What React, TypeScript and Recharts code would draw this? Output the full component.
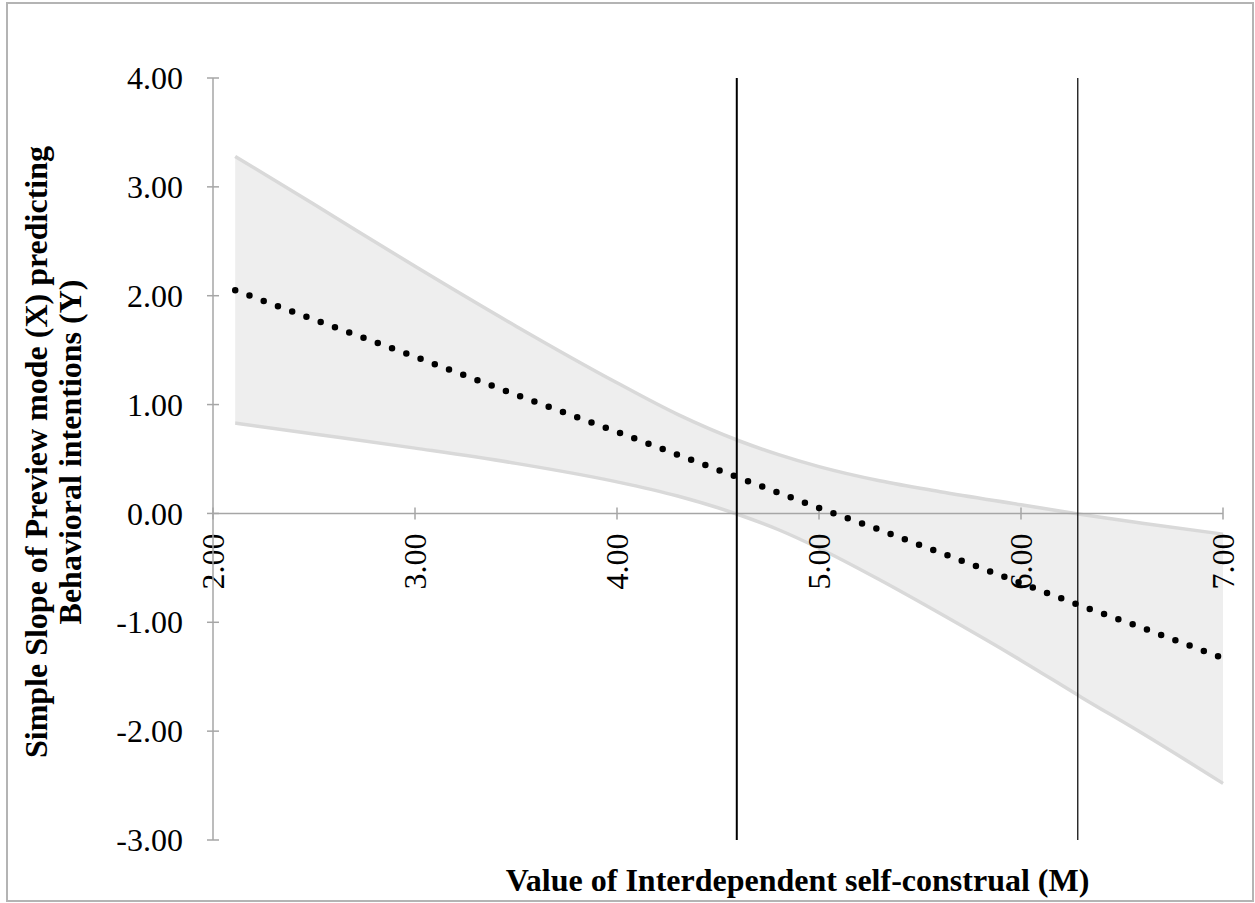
import { ComposedChart, Area, Line, XAxis, YAxis, ReferenceLine } from "recharts";

// values
const moderator = [2.11, 2.5, 3.0, 3.5, 4.0, 4.3, 4.6, 4.8, 5.0, 5.3, 5.6, 6.0, 6.3, 6.6, 7.0];
const slope = [2.05, 1.78, 1.44, 1.09, 0.75, 0.54, 0.33, 0.19, 0.05, -0.15, -0.36, -0.64, -0.85, -1.05, -1.33];
const upperCI = [3.28, 2.84, 2.27, 1.72, 1.2, 0.91, 0.67, 0.54, 0.43, 0.3, 0.2, 0.08, -0.01, -0.09, -0.19];
const lowerCI = [0.83, 0.73, 0.6, 0.46, 0.29, 0.16, -0.01, -0.15, -0.32, -0.61, -0.92, -1.35, -1.69, -2.02, -2.48];
const yTicks = [-3, -2, -1, 0, 1, 2, 3, 4];
const xTicks = [2, 3, 4, 5, 6, 7];
const jnPoints = [4.593, 6.281];

const data = moderator.map((m, i) => ({
  m,
  slope: slope[i],
  upper: upperCI[i],
  lower: lowerCI[i],
  band: [lowerCI[i], upperCI[i]],
}));

const FONT = "'Liberation Serif', 'Times New Roman', serif";
const AXIS = "#a6a6a6";

const YTick = (props: any) => {
  const { x, y, payload } = props;
  return (
    <g>
      <line x1={x + 24} x2={x + 36} y1={y} y2={y} stroke={AXIS} strokeWidth={1.5} />
      <text x={x} y={y} dy="0.35em" textAnchor="end" fontSize={32} fontFamily={FONT} fill="#000">
        {Number(payload.value).toFixed(2)}
      </text>
    </g>
  );
};

const xTickLabel = (v: number) => (p: any) => {
  const vb = p.viewBox || {};
  const x = vb.x ?? 0;
  const y = (vb.y ?? 0) + (vb.height ?? 0) + 14;
  return (
    <text
      x={x}
      y={y}
      dy="0.35em"
      textAnchor="end"
      fontSize={32}
      fontFamily={FONT}
      fill="#000"
      transform={`rotate(-90, ${x}, ${y})`}
    >
      {v.toFixed(2)}
    </text>
  );
};

export default function App() {
  return (
    <div style={{ position: "absolute", left: 0, top: 0, width: 1255, height: 903, background: "#fff" }}>
      <div
        style={{
          position: "absolute",
          left: 6,
          top: 2,
          width: 1248,
          height: 900,
          border: "2px solid #b4b4b4",
          boxSizing: "border-box",
        }}
      />
      <div style={{ position: "absolute", left: 0, top: 0 }}>
        <ComposedChart width={1255} height={903} data={data} margin={{ top: 78, right: 32, bottom: 63, left: 153 }}>
          <XAxis dataKey="m" type="number" domain={[2, 7]} ticks={xTicks} hide />
          <YAxis
            type="number"
            domain={[-3, 4]}
            ticks={yTicks}
            interval={0}
            width={60}
            tickSize={6}
            tickMargin={24}
            tickLine={false}
            axisLine={{ stroke: AXIS, strokeWidth: 1.5 }}
            tick={<YTick />}
          />
          <Area
            dataKey="band"
            type="monotone"
            fill="#eeeeee"
            fillOpacity={1}
            stroke="none"
            isAnimationActive={false}
          />
          <Line dataKey="upper" type="monotone" stroke="#d9d9d9" strokeWidth={3.5} dot={false} isAnimationActive={false} />
          <Line dataKey="lower" type="monotone" stroke="#d9d9d9" strokeWidth={3.5} dot={false} isAnimationActive={false} />
          <ReferenceLine y={0} stroke={AXIS} strokeWidth={1.5} />
          {xTicks.map((v) => (
            <ReferenceLine
              key={v}
              segment={[
                { x: v, y: -0.055 },
                { x: v, y: 0.055 },
              ]}
              stroke={AXIS}
              strokeWidth={1.5}
              label={xTickLabel(v)}
            />
          ))}
          <ReferenceLine x={jnPoints[0]} stroke="#000" strokeWidth={2} />
          <ReferenceLine x={jnPoints[1]} stroke="#111" strokeWidth={1.3} />
          <Line
            dataKey="slope"
            type="linear"
            stroke="#000"
            strokeWidth={6.5}
            strokeDasharray="0 15.2"
            strokeLinecap="round"
            dot={false}
            isAnimationActive={false}
          />
        </ComposedChart>
      </div>
      <svg width={1255} height={903} style={{ position: "absolute", left: 0, top: 0, pointerEvents: "none" }}>
        <g fontFamily={FONT} fontWeight="bold" fontSize={32} fill="#000">
          <text x={46.5} y={452} textAnchor="middle" transform="rotate(-90, 46.5, 452)">
            Simple Slope of Preview mode (X) predicting
          </text>
          <text x={81} y={452} textAnchor="middle" transform="rotate(-90, 81, 452)">
            Behavioral intentions (Y)
          </text>
          <text x={797.5} y={891} textAnchor="middle">
            Value of Interdependent self-construal (M)
          </text>
        </g>
      </svg>
    </div>
  );
}
